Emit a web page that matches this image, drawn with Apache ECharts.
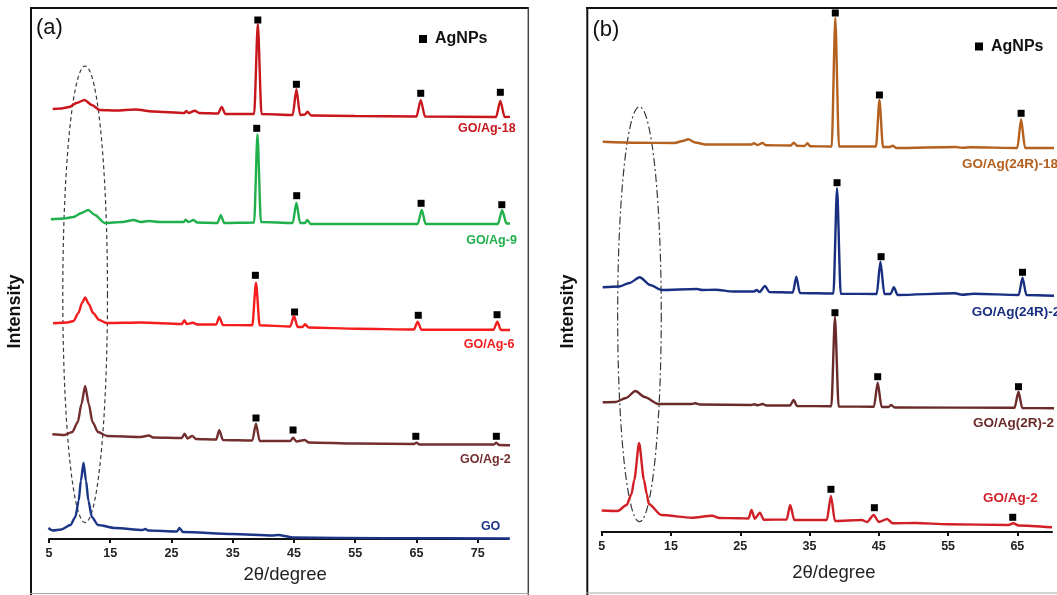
<!DOCTYPE html>
<html>
<head>
<meta charset="utf-8">
<title>XRD GO/Ag</title>
<script src="https://cdn.jsdelivr.net/npm/echarts@6.0.0/dist/echarts.min.js"></script>
<style>
  html, body { margin: 0; padding: 0; background: #fff; overflow: hidden; }
  #chart { width: 1057px; height: 595px; }
</style>
</head>
<body>
<div id="chart"></div>
<script>
// 2theta ticks
const ticksA = [5, 15, 25, 35, 45, 55, 65, 75];
const ticksB = [5, 15, 25, 35, 45, 55, 65];

// panel (a) patterns, [2theta, stacked intensity]
const goAg18 = [[5.6,430],[7,430.5],[8.3,432],[9.5,436],[10.8,439],[12,434],[13.3,429],[16,428.5],[19.1,429.5],[22,427.5],[27.1,426],[27.4,428],[27.8,426],[28.8,428.3],[29.5,426],[32.6,425.5],[33.2,432],[33.8,425],[38.5,425],[39.1,515],[39.7,425],[44.8,424],[45.4,449.7],[46.0,424],[46.8,424.5],[47.2,427.3],[47.8,423.5],[55,423],[65.0,422.5],[65.7,438.7],[66.4,422.5],[78.0,422],[78.7,438],[79.4,422],[81.4,422.3]];
const goAg9 = [[5.3,319.7],[7.5,320.5],[9,322],[10.3,326],[11.4,329],[12.5,324],[14.1,316],[17,317],[18.8,319],[20,317],[21.3,318],[23,317],[27.0,317],[27.3,319.3],[27.8,317],[28.6,319],[29.2,316.5],[32.5,316],[33.06,323.7],[33.6,316],[38.5,316.5],[39.04,404.7],[39.6,317],[44.8,316],[45.4,336.3],[46.0,316],[46.8,316],[47.2,319],[47.7,315],[55,315],[65.2,315],[65.87,329],[66.5,315],[78.3,315],[78.99,328.7],[79.7,315.5],[81.48,315.7]];
const goAg6 = [[5.66,215.7],[8,216.5],[9.0,218],[9.8,226],[10.4,236],[10.9,241.5],[11.5,235],[12.2,226],[13.2,219],[14.4,216],[20,216.5],[26.7,215],[27.1,218.7],[27.5,215],[28.5,216.3],[29.2,214.5],[32.3,214.5],[32.8,222],[33.4,214],[38.2,213.7],[38.8,256.3],[39.4,213.7],[44.4,212.5],[45.0,223],[45.6,212],[46.4,212],[46.8,214.7],[47.4,211.5],[55.4,210.3],[64.6,209.5],[65.2,217.3],[65.8,209.3],[77.6,209.3],[78.2,217.3],[78.8,209],[80.7,209]];
const goAg2a = [[5.55,104.7],[7.5,104],[8.8,107],[9.7,117],[10.3,135],[10.9,153],[11.5,135],[12.1,117],[13,107],[14.5,103],[20,102],[21.3,103.5],[22,101.5],[26.7,101],[27.14,105.3],[27.6,100.5],[28.4,103],[29,100],[32.3,99.5],[32.8,108.7],[33.4,99],[38.2,98.5],[38.8,115.3],[39.4,98],[44.4,98],[44.85,101.3],[45.4,97.5],[46.78,99],[47.4,96.5],[55,95.5],[64.6,95],[65.04,96.3],[65.5,94.5],[77.6,94.5],[78.05,96.3],[78.5,94],[80.65,93.7]];
const goPure = [[4.9,11],[5.6,8.5],[7,9.5],[8.5,14],[9.3,22],[9.84,38],[10.2,58],[10.64,76.3],[11.05,58],[11.44,38],[12,22],[13,14],[15.8,11],[20.3,9],[20.7,10],[21.2,8.5],[25.9,7.5],[26.3,11],[26.86,7],[35,5],[41.5,3.5],[42.35,4],[45,1.5],[60,0.8],[80.26,0.5]];

// panel (b) patterns
const goAg24R18 = [[5.15,390.3],[10,389.3],[15.5,389],[16.7,391],[17.5,392.7],[18.5,389.5],[20,387.5],[26.6,387.5],[27.0,388.7],[27.5,387],[28.2,389],[28.7,386.8],[32.3,386.5],[32.74,389.3],[33.2,386.3],[34.3,386],[34.69,388.7],[35.1,385.8],[38.2,385.5],[38.72,514],[39.25,385.5],[44.6,385.5],[45.09,432],[45.6,385],[46.6,385],[47.03,386.3],[47.5,384],[56.02,385],[57,384.3],[58.35,384.7],[65.0,384],[65.54,412.7],[66.1,384],[71.5,384]];
const goAg24R2 = [[5.15,244.7],[7.5,245.5],[9,249],[10.49,254.7],[12,247],[13.65,242],[18.75,243],[19.5,242],[21.42,242.3],[24,240.5],[27.0,240.5],[27.35,242],[27.8,240],[28.57,246],[29.2,240],[32.6,239.5],[33.09,255.3],[33.6,239],[38.45,238.5],[38.97,343.7],[39.5,238.3],[44.7,238],[45.23,270.3],[45.8,238],[46.7,238],[47.18,244.7],[47.7,237],[56.02,238.7],[57,237.3],[58.74,238.3],[65.2,237],[65.74,254.3],[66.3,237],[71.5,236]];
const goAg2R2 = [[5.15,129.7],[7,130],[8.5,134],[9.86,141],[11.2,135],[13.16,128],[18,128],[18.51,128.7],[19.2,127.5],[26.6,127],[27.01,127.7],[27.5,126.8],[28.23,128],[28.8,126.5],[32.2,126.5],[32.7,132],[33.2,126],[38.15,125.8],[38.67,215.3],[39.2,125.5],[44.3,125.3],[44.84,149.3],[45.4,125],[46.4,125],[46.79,127],[47.3,124.5],[64.6,124.3],[65.16,140.3],[65.7,124],[70.5,123.7]];
const goAg2b = [[5.0,21.5],[7.3,21],[8.6,27],[9.3,38],[9.7,52],[10.4,89],[11.1,52],[11.5,38],[11.8,28],[13.6,17],[18,14.3],[20.94,16.3],[22,14],[24.83,13.7],[26.2,13.5],[26.62,22],[27.1,13.3],[27.84,19.3],[28.4,12.3],[31.7,12.5],[32.21,27],[32.8,12],[37.5,12],[38.09,36],[38.67,11],[42.56,12],[43.3,10],[44.26,17],[45.0,10],[46.2,13],[47.0,8.7],[50.33,9],[54.95,7.7],[63.7,7],[64.43,8.7],[65.16,6.5],[70.01,4.7]];

// AgNPs reflections marked with squares
const agA = [[39.1,519],[45.4,454.7],[65.7,445.7],[78.7,446.7],[38.92,410.7],[45.45,343.3],[65.76,335.7],[78.94,334.3],[38.7,263.7],[45.1,227],[65.3,223.7],[78.16,224.3],[38.8,121],[44.85,109],[64.9,102.7],[78.05,102.7]];
const agB = [[38.72,519],[45.09,437],[65.54,418.7],[38.97,349.3],[45.33,275.3],[65.74,259.7],[38.67,219.3],[44.84,155.3],[65.16,145.3],[38.09,42.7],[44.36,24.3],[64.33,14.7]];

// sample names and where their tags sit
const namesA = ["GO/Ag-18", "GO/Ag-9", "GO/Ag-6", "GO/Ag-2", "GO"];
const tagPosA = [[81.2,410],[81.4,298.7],[81.0,194],[80.4,79],[78.7,12]];
const namesB = ["GO/Ag(24R)-18", "GO/Ag(24R)-2", "GO/Ag(2R)-2", "GO/Ag-2"];
const tagPosB = [[57.0,368],[58.4,219.3],[58.6,108.7],[60.05,33.7]];

// GO (001) region ellipses: centre x, centre y, half width, half height
const ringA = [10.9, 244.7, 3.65, 228.3];
const ringB = [10.45, 217.8, 3.15, 207.5];

const colorsA = ["#c8161d", "#1fb04b", "#f41c1c", "#732f2f", "#1c3687"];
const colorsB = ["#b4601f", "#182f82", "#6b2a2a", "#d11f26"];

const chart = echarts.init(document.getElementById("chart"));

function xAxisFor(grid, max, gap, shift) {
  return {
    gridIndex: grid,
    type: "value",
    min: 5,
    max: max,
    interval: 10,
    name: "2θ/degree",
    nameLocation: "middle",
    nameGap: gap,
    nameTextStyle: {
      fontFamily: "Liberation Sans",
      fontSize: 18.5,
      color: "#222",
      padding: [0, 0, 0, shift],
    },
    axisLine: { lineStyle: { color: "#111", width: 2 } },
    axisTick: { length: 4, lineStyle: { color: "#111", width: 2 } },
    splitLine: { show: false },
    axisLabel: {
      fontFamily: "Liberation Sans",
      fontWeight: "bold",
      fontSize: 12.5,
      color: "#222",
      margin: 8,
      showMaxLabel: false,
    },
  };
}

function yAxisFor(grid, max) {
  return {
    gridIndex: grid,
    type: "value",
    min: 0,
    max: max,
    show: false,
  };
}

function patternSeries(data, color, grid) {
  return {
    type: "line",
    data: data,
    xAxisIndex: grid,
    yAxisIndex: grid,
    showSymbol: false,
    smooth: 0.25,
    smoothMonotone: "x",
    clip: false,
    silent: true,
    lineStyle: { color: color, width: 2.4 },
    itemStyle: { color: color },
  };
}

function ringSeries(ring, grid, dash) {
  return {
    type: "custom",
    xAxisIndex: grid,
    yAxisIndex: grid,
    silent: true,
    clip: false,
    data: [ring],
    encode: { x: 0, y: 1 },
    renderItem(params, api) {
      const c = api.coord([api.value(0), api.value(1)]);
      const s = api.size([api.value(2), api.value(3)]);
      const points = [];
      for (let k = 0; k <= 120; k++) {
        const a = (k / 120) * Math.PI * 2;
        points.push([c[0] + s[0] * Math.cos(a), c[1] + s[1] * Math.sin(a)]);
      }
      return {
        type: "polygon",
        shape: { points: points },
        style: { fill: "none", stroke: "#3a3a3a", lineWidth: 1.2, lineDash: dash },
      };
    },
  };
}

function tagSeries(names, pos, colors, grid, size, side) {
  return {
    type: "scatter",
    xAxisIndex: grid,
    yAxisIndex: grid,
    symbolSize: 0,
    silent: true,
    clip: false,
    itemStyle: { opacity: 1 },
    data: names.map((n, i) => ({
      name: n,
      value: pos[i],
      label: { color: colors[i] },
    })),
    label: {
      show: true,
      formatter: "{b}",
      position: side,
      distance: 0,
      fontFamily: "Liberation Sans",
      fontWeight: "bold",
      fontSize: size,
    },
  };
}

function markerSeries(data, grid) {
  return {
    name: "AgNPs",
    type: "scatter",
    xAxisIndex: grid,
    yAxisIndex: grid,
    symbol: "rect",
    symbolSize: 7,
    silent: true,
    clip: false,
    data: data,
    itemStyle: { color: "#000", opacity: 1 },
  };
}

function legendAt(left, top) {
  return {
    data: ["AgNPs"],
    left: left,
    top: top,
    padding: 0,
    icon: "rect",
    itemWidth: 8,
    itemHeight: 8,
    selectedMode: false,
    itemStyle: { color: "#000", opacity: 1 },
    textStyle: {
      fontFamily: "Liberation Sans",
      fontWeight: "bold",
      fontSize: 16,
      color: "#111",
      padding: [0, 0, 0, 3],
    },
  };
}

function vline(x, y1, y2, color, w) {
  return { type: "line", shape: { x1: x, y1: y1, x2: x, y2: y2 }, style: { stroke: color, lineWidth: w }, silent: true };
}
function hline(y, x1, x2, color, w) {
  return { type: "line", shape: { x1: x1, y1: y, x2: x2, y2: y }, style: { stroke: color, lineWidth: w }, silent: true };
}
function rotatedTitle(x, y) {
  return {
    type: "text",
    x: x,
    y: y,
    rotation: Math.PI / 2,
    silent: true,
    style: {
      text: "Intensity",
      fontFamily: "Liberation Sans",
      fontWeight: "bold",
      fontSize: 18,
      fill: "#111",
      align: "center",
      verticalAlign: "middle",
    },
  };
}
function panelTag(text, x, y) {
  return {
    type: "text",
    x: x,
    y: y,
    silent: true,
    style: {
      text: text,
      fontFamily: "Liberation Sans",
      fontSize: 22,
      fill: "#111",
      align: "left",
      verticalAlign: "middle",
    },
  };
}

const option = {
  animation: false,
  backgroundColor: "#fff",
  grid: [
    { left: 49, right: 548.7, top: 8, bottom: 56 },
    { left: 601.7, right: 5, top: 8, bottom: 63 },
  ],
  xAxis: [xAxisFor(0, 80, 26.5, 13), xAxisFor(1, 70, 31, 14)],
  yAxis: [yAxisFor(0, 531), yAxisFor(1, 524)],
  legend: [legendAt(419, 31), legendAt(975, 38.5)],
  graphic: [
    hline(8, 30, 529, "#111", 2),
    vline(31, 7, 595, "#111", 2),
    vline(528.3, 7, 595, "#444", 1.5),
    hline(593.5, 30, 529, "#aaa", 1),
    hline(8, 586, 1057, "#111", 2),
    vline(587.3, 7, 595, "#111", 2),
    hline(593, 586, 1057, "#aaa", 1),
    panelTag("(a)", 36, 28),
    panelTag("(b)", 592.5, 30),
    rotatedTitle(15, 311.5),
    rotatedTitle(568, 311.5),
  ],
  series: [
    ringSeries(ringA, 0, [4, 3]),
    ringSeries(ringB, 1, [8, 3, 2, 3]),
    patternSeries(goAg18, colorsA[0], 0),
    patternSeries(goAg9, colorsA[1], 0),
    patternSeries(goAg6, colorsA[2], 0),
    patternSeries(goAg2a, colorsA[3], 0),
    patternSeries(goPure, colorsA[4], 0),
    patternSeries(goAg24R18, colorsB[0], 1),
    patternSeries(goAg24R2, colorsB[1], 1),
    patternSeries(goAg2R2, colorsB[2], 1),
    patternSeries(goAg2b, colorsB[3], 1),
    markerSeries(agA, 0),
    markerSeries(agB, 1),
    tagSeries(namesA, tagPosA, colorsA, 0, 12.5, "left"),
    tagSeries(namesB, tagPosB, colorsB, 1, 13.5, "right"),
  ],
};

chart.setOption(option);
</script>
</body>
</html>
